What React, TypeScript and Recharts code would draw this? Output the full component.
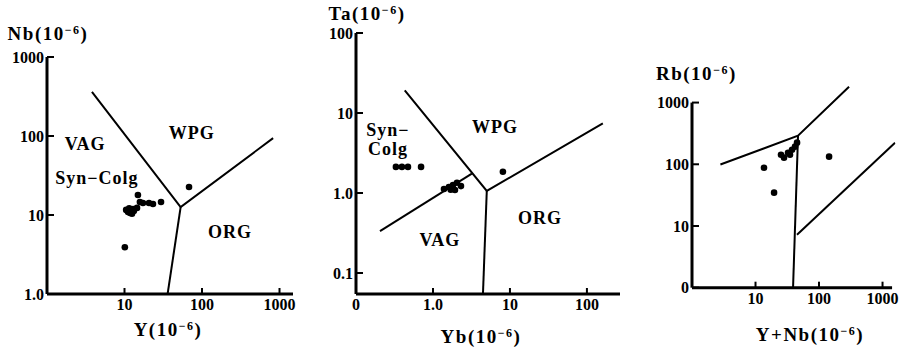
import React from "react";
import { ScatterChart, Scatter, XAxis, YAxis, ReferenceLine } from "recharts";

type Pt = { x: number; y: number };
type Txt = { x: number; y: number; text: string };

const FONT = "'Liberation Serif', 'DejaVu Serif', serif";

// panel 1: Nb - Y
const nbYSamples: Pt[] = [
  { x: 10.5, y: 11.6 }, { x: 11.1, y: 10.9 }, { x: 11.8, y: 10.6 }, { x: 11.5, y: 12.2 },
  { x: 12.1, y: 11.6 }, { x: 12.5, y: 10.4 }, { x: 12.9, y: 11.9 }, { x: 13.2, y: 11.2 },
  { x: 14.5, y: 12.3 }, { x: 14.9, y: 17.9 }, { x: 15.8, y: 14.6 }, { x: 17.3, y: 14.2 },
  { x: 20.7, y: 14.2 }, { x: 23.3, y: 13.8 }, { x: 29.6, y: 14.6 }, { x: 68, y: 22.6 },
  { x: 10.1, y: 3.9 },
];
const nbYWpgLine: Pt[] = [{ x: 3.8, y: 363 }, { x: 53, y: 12.6 }, { x: 827, y: 94 }];
const nbYOrgLine: Pt[] = [{ x: 53, y: 12.6 }, { x: 36, y: 1 }];
const nbYLabels: Txt[] = [
  { x: 3.1, y: 79, text: "VAG" },
  { x: 74, y: 109, text: "WPG" },
  { x: 4.4, y: 29.5, text: "Syn−Colg" },
  { x: 230, y: 6.1, text: "ORG" },
];
const nbYXTicks = [10, 100, 1000];
const nbYXTickText = ["10", "100", "1000"];
const nbYYTicks = [1, 10, 100, 1000];
const nbYYTickText = ["1.0", "10", "100", "1000"];

// panel 2: Ta - Yb
const taYbSamples: Pt[] = [
  { x: 0.33, y: 2.12 }, { x: 0.395, y: 2.12 }, { x: 0.473, y: 2.12 }, { x: 0.7, y: 2.12 },
  { x: 1.39, y: 1.12 }, { x: 1.61, y: 1.19 }, { x: 1.82, y: 1.26 }, { x: 2.05, y: 1.34 },
  { x: 2.31, y: 1.22 }, { x: 1.93, y: 1.09 }, { x: 1.7, y: 1.1 }, { x: 8.1, y: 1.84 },
];
const taYbWpgLine: Pt[] = [{ x: 0.43, y: 19.2 }, { x: 5, y: 1.06 }, { x: 161, y: 7.4 }];
const taYbOrgLine: Pt[] = [{ x: 5, y: 1.06 }, { x: 4.46, y: 0.0546 }];
const taYbVagLine: Pt[] = [{ x: 0.205, y: 0.333 }, { x: 3.2, y: 1.75 }];
const taYbLabels: Txt[] = [
  { x: 0.26, y: 6.2, text: "Syn−" },
  { x: 0.26, y: 3.5, text: "Colg" },
  { x: 6.4, y: 6.6, text: "WPG" },
  { x: 24.5, y: 0.485, text: "ORG" },
  { x: 1.23, y: 0.256, text: "VAG" },
];
const taYbXTicks = [0.1, 1, 10, 100];
const taYbXTickText = ["0", "1.0", "10", "100"];
const taYbYTicks = [0.1, 1, 10, 100];
const taYbYTickText = ["0.1", "1.0", "10", "100"];

// panel 3: Rb - (Y+Nb)
const rbSamples: Pt[] = [
  { x: 13.6, y: 88 }, { x: 19.6, y: 34.7 }, { x: 144, y: 133 }, { x: 25.2, y: 143 },
  { x: 28.1, y: 128 }, { x: 32.5, y: 154 }, { x: 37.6, y: 172 }, { x: 41.9, y: 193 },
  { x: 45.1, y: 224 }, { x: 34.9, y: 143 },
];
const rbColgLine: Pt[] = [{ x: 2.8, y: 99 }, { x: 46.7, y: 291 }, { x: 297, y: 1810 }];
const rbVagLine: Pt[] = [{ x: 46.7, y: 291 }, { x: 39, y: 1 }];
const rbOrgLine: Pt[] = [{ x: 45, y: 7.2 }, { x: 1574, y: 224 }];
const rbXTicks = [10, 100, 1000];
const rbXTickText = ["10", "100", "1000"];
const rbYTicks = [1, 10, 100, 1000];
const rbYTickText = ["0", "10", "100", "1000"];

const ML = 50;
const MT = 30;
const MR = 12;
const MB = 50;

const dot = (p: any) => <circle cx={p.cx} cy={p.cy} r={3.3} fill="#000" />;
const noDot = () => <g />;
const regionText = (p: any) => (
  <text x={p.cx} y={p.cy} textAnchor="middle" dominantBaseline="central"
    fontFamily={FONT} fontSize={18} fontWeight="bold" letterSpacing={1} fill="#000">
    {p.payload.text}
  </text>
);

function Panel(props: {
  left: number; top: number; w: number; h: number;
  xDomain: [number, number]; yDomain: [number, number];
  xTicks: number[]; xTickText: string[]; yTicks: number[]; yTickText: string[];
  xEnd: number; yEnd: number;
  lines: Pt[][]; samples: Pt[]; labels: Txt[];
}) {
  const { xTicks, xTickText, yTicks, yTickText, xDomain, yDomain } = props;
  const xTick = (p: any) => (
    <g>
      <line x1={p.x} x2={p.x} y1={p.y} y2={p.y - 6} stroke="#000" strokeWidth={2} />
      <text x={p.x} y={p.y + 16} textAnchor="middle" fontFamily={FONT} fontSize={16} fontWeight="bold" fill="#000">
        {xTickText[xTicks.indexOf(p.payload.value)]}
      </text>
    </g>
  );
  const yTick = (p: any) => (
    <g>
      <line x1={p.x} x2={p.x + 7} y1={p.y} y2={p.y} stroke="#000" strokeWidth={2} />
      <text x={p.x - 3} y={p.y} dy="0.35em" textAnchor="end" fontFamily={FONT} fontSize={16} fontWeight="bold" fill="#000">
        {yTickText[yTicks.indexOf(p.payload.value)]}
      </text>
    </g>
  );
  return (
    <div style={{ position: "absolute", left: props.left - ML, top: props.top - MT }}>
      <ScatterChart width={props.w + ML + MR} height={props.h + MT + MB}
        margin={{ top: MT, right: MR, left: 0, bottom: 0 }}>
        <XAxis type="number" dataKey="x" scale="log" domain={xDomain} ticks={xTicks} interval={0}
          allowDataOverflow height={MB} axisLine={false} tickLine={false} tickSize={0} tickMargin={0} tick={xTick} />
        <YAxis type="number" dataKey="y" scale="log" domain={yDomain} ticks={yTicks} interval={0}
          allowDataOverflow width={ML} axisLine={false} tickLine={false} tickSize={0} tickMargin={0} tick={yTick} />
        <ReferenceLine segment={[{ x: xDomain[0], y: yDomain[0] }, { x: xDomain[0], y: props.yEnd }]}
          stroke="#000" strokeWidth={3} ifOverflow="visible" />
        <ReferenceLine segment={[{ x: xDomain[0], y: yDomain[0] }, { x: props.xEnd, y: yDomain[0] }]}
          stroke="#000" strokeWidth={3} ifOverflow="visible" />
        {props.lines.map((l, i) => (
          <Scatter key={i} data={l} line={{ stroke: "#000", strokeWidth: 2 }} shape={noDot} isAnimationActive={false} />
        ))}
        <Scatter data={props.samples} shape={dot} isAnimationActive={false} />
        <Scatter data={props.labels} shape={regionText} isAnimationActive={false} />
      </ScatterChart>
    </div>
  );
}

function Title({ left, width, cy, main }: { left: number; width: number; cy: number; main: string }) {
  return (
    <div style={{
      position: "absolute", left, top: cy - 10, width, height: 20, lineHeight: "20px",
      textAlign: "center", fontFamily: FONT, fontSize: 19, fontWeight: "bold", letterSpacing: 1.5, whiteSpace: "nowrap",
    }}>
      {main}(10<sup style={{ fontSize: 12, verticalAlign: "6px", lineHeight: 0 }}>−6</sup>)
    </div>
  );
}

export default function App() {
  return (
    <div style={{ position: "absolute", left: 0, top: 0, width: 901, height: 351, background: "#fff", overflow: "hidden" }}>
      <Panel left={47} top={57} w={246} h={237} xDomain={[1, 1493]} yDomain={[1, 1000]}
        xTicks={nbYXTicks} xTickText={nbYXTickText} yTicks={nbYYTicks} yTickText={nbYYTickText}
        xEnd={1493} yEnd={1000} lines={[nbYWpgLine, nbYOrgLine]} samples={nbYSamples} labels={nbYLabels} />
      <Panel left={356} top={33} w={264} h={261} xDomain={[0.1, 269]} yDomain={[0.0546, 100]}
        xTicks={taYbXTicks} xTickText={taYbXTickText} yTicks={taYbYTicks} yTickText={taYbYTickText}
        xEnd={269} yEnd={100} lines={[taYbWpgLine, taYbOrgLine, taYbVagLine]} samples={taYbSamples} labels={taYbLabels} />
      <Panel left={692} top={84.3} w={203.5} h={203.7} xDomain={[1, 1600]} yDomain={[1, 2000]}
        xTicks={rbXTicks} xTickText={rbXTickText} yTicks={rbYTicks} yTickText={rbYTickText}
        xEnd={1413} yEnd={1000} lines={[rbColgLine, rbVagLine, rbOrgLine]} samples={rbSamples} labels={[]} />
      <Title left={0} width={96} cy={34} main="Nb" />
      <Title left={123} width={90} cy={330} main="Y" />
      <Title left={322} width={90} cy={14} main="Ta" />
      <Title left={432} width={98} cy={337} main="Yb" />
      <Title left={656} width={80} cy={74} main="Rb" />
      <Title left={755} width={110} cy={335} main="Y+Nb" />
    </div>
  );
}
